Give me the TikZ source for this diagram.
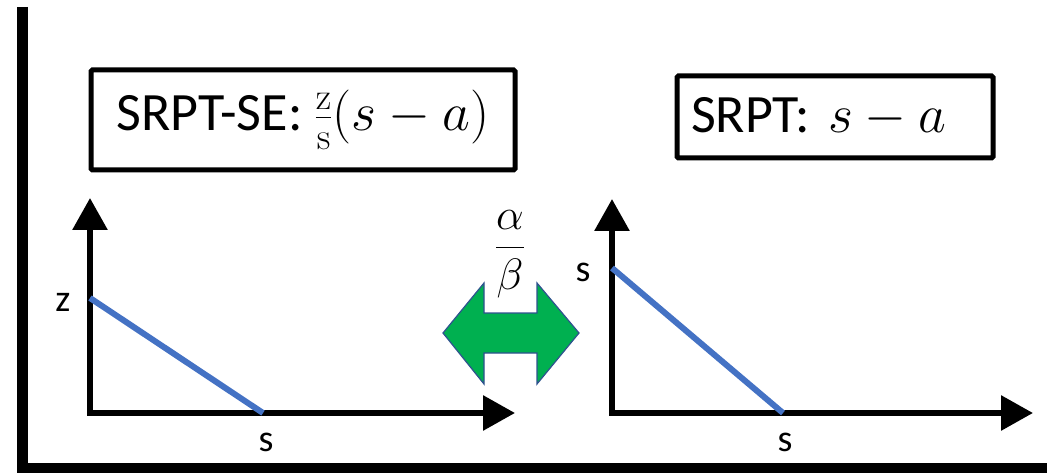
\documentclass[tikz,border=0pt]{standalone}
\usepackage{fix-cm}
\usepackage{amsmath}
\usepackage[no-math]{fontspec}
\setmainfont{Carlito}
\usepackage{tikz}
\usetikzlibrary{arrows.meta,positioning,calc}
\definecolor{lineblue}{HTML}{4472C4}
\definecolor{arrowgreen}{HTML}{00B050}
\definecolor{arrowedge}{HTML}{2F528F}
\tikzset{
    formula/.style = {draw, line width=5pt, rounded corners=1.5pt, font=\fontsize{54}{60}\selectfont},
    axis/.style = {line width=6pt, {Triangle[length=32pt,width=34pt]}-{Triangle[length=32pt,width=34pt]}},
    curve/.style = {line width=6pt, lineblue},
    label/.style = {inner sep=0pt, font=\fontsize{38}{40}\selectfont},
    frame/.style = {line width=10.5pt},
}

\begin{document}
\begin{tikzpicture}[x=1pt, y=-1pt]
    \useasboundingbox (0,0) rectangle (1047,473);

    % frame lines
    \coordinate (ftop) at (22.5,7);
    \coordinate (fcorner) at (22.5,468);
    \coordinate (fright) at (1047,468);
    \draw[frame] (ftop) -- (fcorner) -- (fright);

    % formula boxes
    \node[formula, minimum width=424pt, minimum height=100pt, align=center] (se) at (303,120)
        {SRPT-SE: $\frac{\mathrm{z}}{\mathrm{s}}(s-a)$};
    \node[formula, text width=288pt, inner xsep=14pt, minimum height=82pt, align=left] (srpt) at (835,117)
        {SRPT: $s-a$};

    % left plot
    \coordinate (ytip1) at (90,198);
    \coordinate (o1) at (90,413);
    \coordinate (xtip1) at (515,413);
    \coordinate (z1) at (90,298);
    \coordinate (s1) at (263,413);
    \draw[axis] (ytip1) -- (o1) -- (xtip1);
    \draw[curve] (z1) -- (s1);
    \node[label] (zlab) at (63,302) {z};
    \node[label] (slab1) at (266,442) {s};

    % right plot
    \coordinate (ytip2) at (612,199);
    \coordinate (o2) at (612,413);
    \coordinate (xtip2) at (1033,413);
    \coordinate (s2y) at (612,268);
    \coordinate (s2x) at (783,413);
    \draw[axis] (ytip2) -- (o2) -- (xtip2);
    \draw[curve] (s2y) -- (s2x);
    \node[label] (slab2) at (583,272) {s};
    \node[label] (slab3) at (785,442) {s};

    % double arrow between plots
    \draw[fill=arrowgreen, draw=arrowedge, line width=1.2pt]
        (443,333) -- (484,283) -- (484,313) -- (537,313) -- (537,283) -- (579,333)
        -- (537,384) -- (537,353) -- (484,353) -- (484,384) -- cycle;
    \node[inner sep=0pt, font=\fontsize{44}{48}\selectfont] (ratio) at (510,254) {$\dfrac{\alpha}{\beta}$};
\end{tikzpicture}
\end{document}
